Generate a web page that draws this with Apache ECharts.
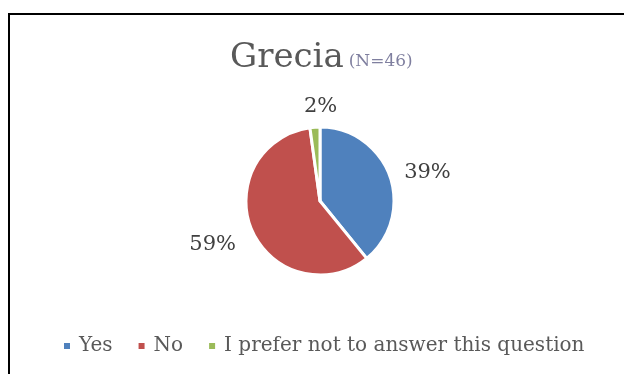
<!DOCTYPE html>
<html><head><meta charset="utf-8">
<script src="https://cdn.jsdelivr.net/npm/echarts@6/dist/echarts.min.js"></script>
<style>
html,body{margin:0;padding:0;background:#fff;}
#frame{position:absolute;left:8px;top:13px;width:640px;height:400px;border-left:2px solid #000;border-top:2px solid #000;box-sizing:border-box;}
#c{position:absolute;left:0;top:0;width:624px;height:374px;}
</style>
</head><body>
<div id="frame"></div>
<div id="c"></div>
<script>
const titleMain = 'Grecia';
const titleSub = '(N=46)';
const categories = ['Yes', 'No', 'I prefer not to answer this question'];
const counts = [18, 27, 1];
const labels = ['39%', '59%', '2%'];
const colors = ['#4F81BD', '#C0504D', '#9BBB59'];
const labelShift = [[0, 0], [-2, 10], [28, -11]];

const FONT = 'DejaVu Serif';
const chart = echarts.init(document.getElementById('c'), null, {renderer: 'canvas'});
chart.setOption({
  animation: false,
  title: {
    text: '{a|' + titleMain + '} {b|' + titleSub + '}',
    left: 230, top: 41,
    padding: 0,
    textStyle: {
      rich: {
        a: {fontFamily: FONT, fontSize: 34, fontWeight: 'normal', color: '#595959'},
        b: {fontFamily: FONT, fontSize: 17, fontWeight: 'normal', color: '#7F7F9F', padding: [8, 0, 0, 0]}
      }
    }
  },
  legend: {
    bottom: 18, left: 62,
    padding: 0,
    itemWidth: 8, itemHeight: 8, itemGap: 24,
    icon: 'rect',
    textStyle: {fontFamily: FONT, fontSize: 20, color: '#595959', padding: [0, 0, 0, 3]},
    data: categories
  },
  series: [{
    type: 'pie',
    center: [320, 201],
    radius: [0, 74],
    startAngle: 90,
    clockwise: true,
    avoidLabelOverlap: false,
    itemStyle: {borderColor: '#fff', borderWidth: 3},
    label: {
      show: true, position: 'outside',
      fontFamily: FONT, fontSize: 21, color: '#404040',
      formatter: p => labels[p.dataIndex]
    },
    labelLine: {show: false, length: 10, length2: 0},
    labelLayout: p => ({dx: labelShift[p.dataIndex][0], dy: labelShift[p.dataIndex][1]}),
    data: categories.map((c, i) => ({name: c, value: counts[i], itemStyle: {color: colors[i]}}))
  }]
});
</script>
</body></html>
